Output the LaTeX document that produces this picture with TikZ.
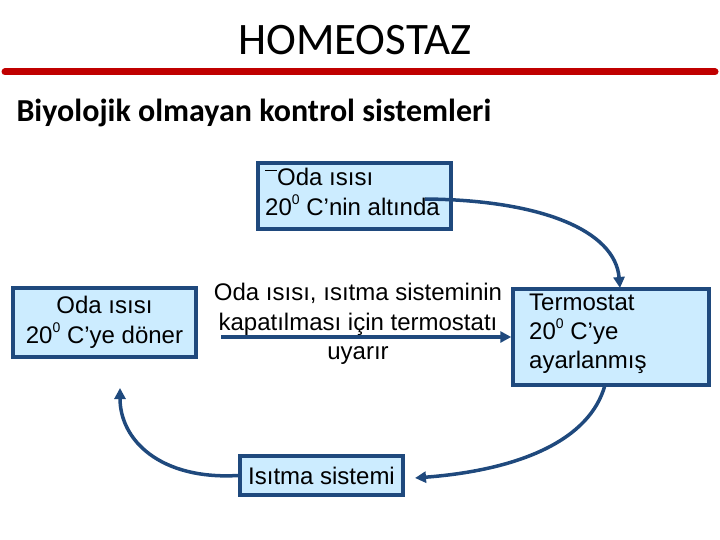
\documentclass[tikz,border=0pt]{standalone}
\usepackage{fontspec}
\setmainfont{Liberation Sans}
\newfontfamily\carlitofont{Carlito}
\usetikzlibrary{arrows.meta}
\definecolor{bfill}{RGB}{204,236,255}
\definecolor{bdraw}{RGB}{31,73,125}
\definecolor{tred}{RGB}{192,0,0}
\newcommand{\degz}{\raisebox{0.45em}{\fontsize{14}{14}\selectfont 0}}
\tikzset{box/.style={draw=bdraw,fill=bfill,line width=3.5pt,inner sep=0pt,font=\fontsize{24}{30}\selectfont},
 conn/.style={draw=bdraw,line width=3.5pt,-{Triangle[length=11pt,width=11pt]}}}
\begin{document}
\begin{tikzpicture}[x=1pt,y=-1pt]
\useasboundingbox (0,0) rectangle (720,540);
\node[font=\carlitofont\fontsize{45}{50}\selectfont] (title) at (355,40) {HOMEOSTAZ};
\draw[tred,line width=7pt,line cap=round] (5,72) -- (715,72);
\node[font=\carlitofont\bfseries\fontsize{32}{36}\selectfont,anchor=west] (sub) at (13,113) {Biyolojik olmayan kontrol sistemleri};
\node[box,minimum width=193pt,minimum height=66pt] (b1) at (354.5,196) {};
\node[anchor=north west,align=left,font=\fontsize{24}{30}\selectfont,inner sep=0pt] (t1) at (265,168) {\raisebox{0.6em}{\rule{12pt}{1.5pt}}Oda ısısı\\20\degz{} C’nin altında};
\node[box,minimum width=183pt,minimum height=69pt,align=center] (b2) at (104.5,322.5) {Oda ısısı\\20\degz{} C’ye döner};
\node[box,minimum width=196pt,minimum height=96pt] (b3) at (611,337) {};
\node[anchor=north west,align=left,font=\fontsize{24}{29}\selectfont,inner sep=0pt] (t3) at (529,294) {Termostat\\20\degz{} C’ye\\ayarlanmış};
\node[box,minimum width=163pt,minimum height=39pt] (b4) at (321.5,475.5) {Isıtma sistemi};
\node[align=center,font=\fontsize{24}{29.5}\selectfont] (mid) at (358,324) {Oda ısısı, ısıtma sisteminin\\kapatılması için termostatı\\uyarır};
\coordinate (ms) at (221,337);
\draw[conn] (ms) -- (b3.west |- ms);
\coordinate (a1) at (425,199);
\coordinate (a1e) at (620,288);
\draw[conn] (a1) .. controls (540,200) and (615,230) .. (a1e);
\coordinate (a2s) at (605,385);
\coordinate (a2e) at (415,478);
\draw[conn] (a2s) .. controls (590,440) and (520,470) .. (a2e);
\coordinate (a3e) at (120,388);
\draw[conn] (b4.west) .. controls (160,480) and (120,440) .. (a3e);
\end{tikzpicture}
\end{document}
